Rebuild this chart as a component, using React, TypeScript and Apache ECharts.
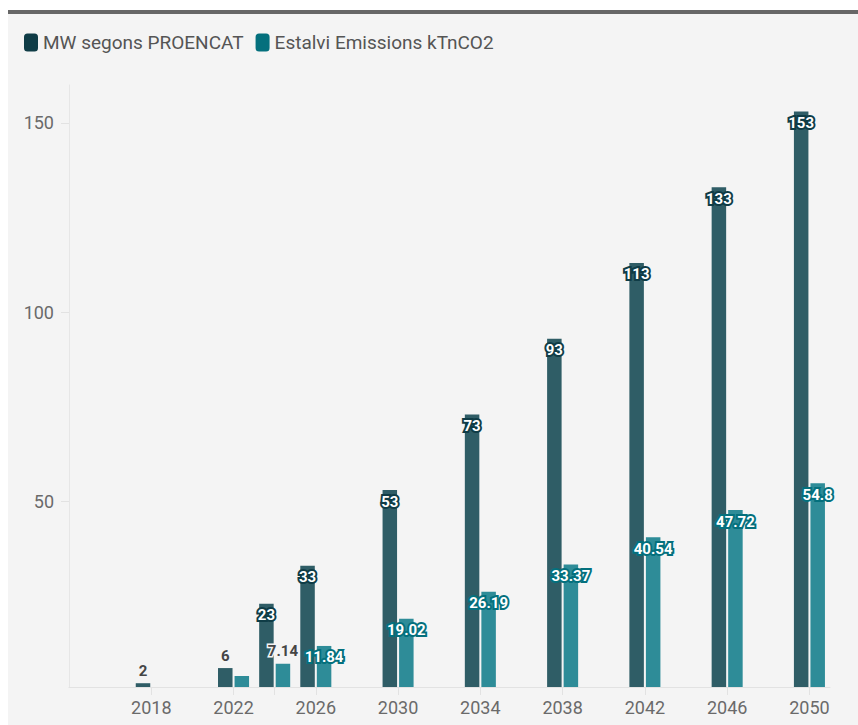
import React, { useEffect, useRef } from "react";
import * as echarts from "echarts";

const years = [2018, 2022, 2024, 2026, 2030, 2034, 2038, 2042, 2046, 2050];
const mwValues = [2, 6, 23, 33, 53, 73, 93, 113, 133, 153];
const emissionValues: (number | null)[] = [null, 3.9, 7.14, 11.84, 19.02, 26.19, 33.37, 40.54, 47.72, 54.8];
const hiddenEmissionLabelYears = [2022];
const xTickLabels = [2018, 2022, 2026, 2030, 2034, 2038, 2042, 2046, 2050];
const yTickLabels = [50, 100, 150];
const seriesNames = ["MW segons PROENCAT", "Estalvi Emissions kTnCO2"];

const FONT = "Roboto, 'Noto Sans', sans-serif";
const barColors = ["#2f5d66", "#2e8c98"];
const strongColors = ["#0f3c46", "#04707d"];

function buildData(values: (number | null)[], idx: number, hidden: number[]) {
  return years.map((y, i) => {
    const v = values[i];
    const small = v !== null && v < 10;
    return {
      value: [y, v],
      label: {
        show: v !== null && hidden.indexOf(y) < 0,
        position: small ? "top" : "insideTop",
        distance: small ? 5 : 4,
        color: small ? "#454545" : "#ffffff",
        textBorderColor: small ? "#f4f4f4" : strongColors[idx],
        textBorderWidth: small ? 3 : 4,
        fontWeight: "bold",
        fontSize: 15,
        fontFamily: FONT,
      },
    };
  });
}

export default function App() {
  const ref = useRef<HTMLDivElement>(null);
  useEffect(() => {
    if (!ref.current) return;
    const chart = echarts.init(ref.current, null, { renderer: "svg" });
    chart.setOption({
      animation: false,
      backgroundColor: "#f4f4f4",
      textStyle: { fontFamily: FONT },
      legend: {
        left: 11,
        top: 14,
        itemWidth: 14,
        itemHeight: 18,
        itemGap: 12,
        icon: "roundRect",
        textStyle: { color: "#555555", fontSize: 19, fontFamily: FONT },
        data: [
          { name: seriesNames[0], itemStyle: { color: strongColors[0] } },
          { name: seriesNames[1], itemStyle: { color: strongColors[1] } },
        ],
      },
      grid: { left: 61, top: 71, right: 28, bottom: 38 },
      xAxis: {
        type: "value",
        min: 2014,
        max: 2051,
        splitLine: { show: false },
        axisLine: { show: true, lineStyle: { color: "#e2e2e2" } },
        axisTick: { show: true, length: 8, customValues: years, lineStyle: { color: "#e2e2e2" } },
        axisLabel: {
          customValues: xTickLabels,
          color: "#6a6a6a",
          fontSize: 18,
          margin: 11,
          fontFamily: FONT,
          formatter: (v: number) => String(v),
        },
      },
      yAxis: {
        type: "value",
        min: 1,
        max: 160,
        splitLine: { show: false },
        axisLine: { show: true, lineStyle: { color: "#e6e6e6" } },
        axisTick: { show: true, length: 8, customValues: yTickLabels, lineStyle: { color: "#e2e2e2" } },
        axisLabel: {
          customValues: yTickLabels,
          color: "#6a6a6a",
          fontSize: 18,
          margin: 15,
          fontFamily: FONT,
        },
      },
      series: [
        {
          name: seriesNames[0],
          type: "bar",
          barWidth: 14.5,
          barGap: "14%",
          itemStyle: { color: barColors[0] },
          data: buildData(mwValues, 0, []),
        },
        {
          name: seriesNames[1],
          type: "bar",
          barWidth: 14.5,
          barGap: "14%",
          itemStyle: { color: barColors[1] },
          data: buildData(emissionValues, 1, hiddenEmissionLabelYears),
        },
      ],
    });
    return () => chart.dispose();
  }, []);

  return (
    <div style={{ position: "fixed", left: 0, top: 0, width: 858, height: 725, background: "#ffffff", overflow: "hidden" }}>
      <div style={{ position: "absolute", left: 8, top: 10, width: 850, height: 4, background: "#676767" }} />
      <div ref={ref} style={{ position: "absolute", left: 8, top: 14, width: 850, height: 711 }} />
    </div>
  );
}
